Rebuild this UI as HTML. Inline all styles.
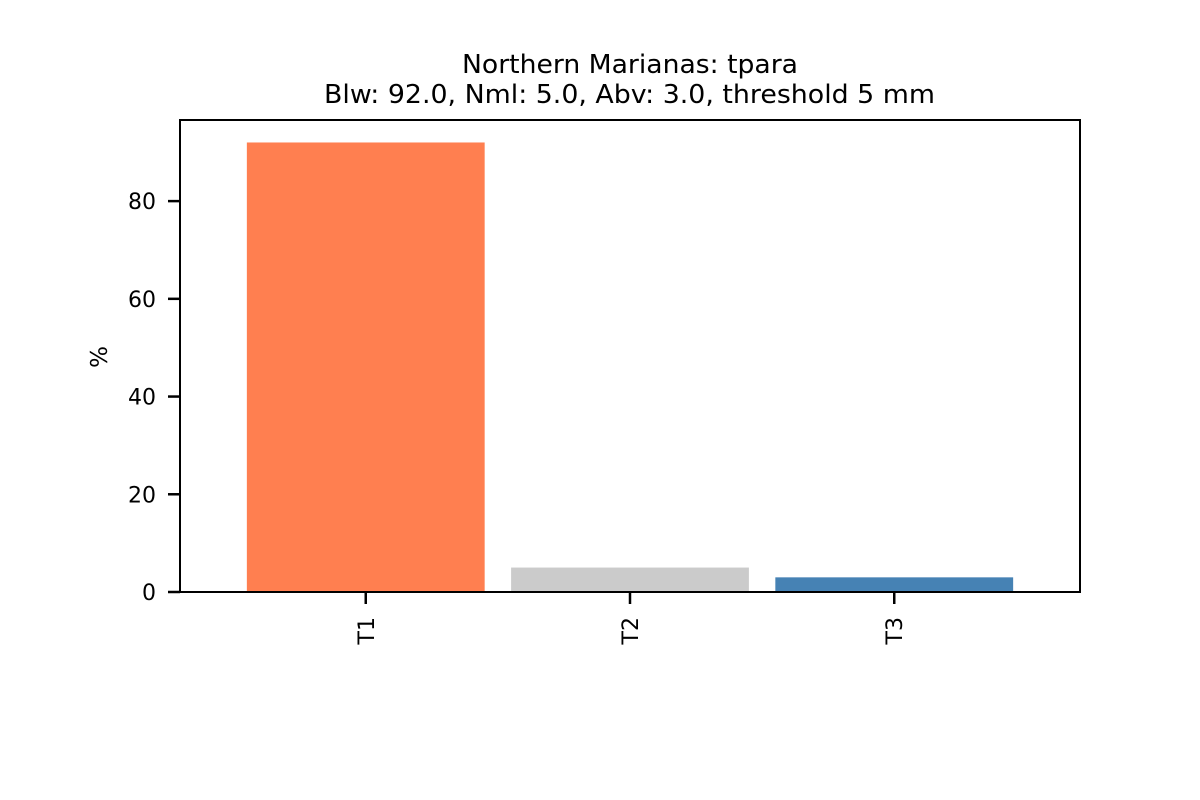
<!DOCTYPE html>
<html><head><meta charset="utf-8">
<style>
html,body{margin:0;padding:0;background:#fff;}
svg{display:block;font-family:"DejaVu Sans","Liberation Sans",sans-serif;}
</style></head>
<body>
<svg id="chart" width="1200" height="800" viewBox="0 0 1200 800" xmlns="http://www.w3.org/2000/svg">
<text x="462" y="73" font-size="26" textLength="336" lengthAdjust="spacingAndGlyphs">Northern Marianas: tpara</text>
<text x="324" y="103" font-size="26" textLength="611" lengthAdjust="spacingAndGlyphs">Blw: 92.0, Nml: 5.0, Abv: 3.0, threshold 5 mm</text>
<text transform="translate(107,357) rotate(-90)" font-size="23" text-anchor="middle">%</text>
<g id="bars"></g>
<g id="yticks"></g>
<g id="xticks"></g>
<rect x="180" y="120" width="900" height="472" fill="none" stroke="#000" stroke-width="2"/>
</svg>
<script>
const categories = ["T1","T2","T3"];
const values = [92.0, 5.0, 3.0];
const colors = ["#ff7f50","#cbcbcb","#4682b4"];
const yTicks = [0,20,40,60,80];

const L=180,R=1080,T=120,B=592;
const xMin=-0.703,xMax=2.703,yMin=0,yMax=Math.max(...values)*1.05;
const xs=v=>L+(v-xMin)/(xMax-xMin)*(R-L);
const ys=v=>B-(v-yMin)/(yMax-yMin)*(B-T);
const NS="http://www.w3.org/2000/svg";
const bars=document.getElementById('bars');
const yg=document.getElementById('yticks');
const xg=document.getElementById('xticks');
function mk(tag,attrs,parent){const e=document.createElementNS(NS,tag);for(const k in attrs)e.setAttribute(k,attrs[k]);parent.appendChild(e);return e;}

values.forEach((v,i)=>{
  const x0=xs(i-0.45),x1=xs(i+0.45);
  const r=mk('rect',{x:x0,y:ys(v),width:x1-x0,height:ys(0)-ys(v),fill:colors[i]},bars);
  
  
  const t=mk('line',{x1:xs(i),x2:xs(i),y1:B,y2:B+12,stroke:'#000','stroke-width':2.5},xg);
  
  
  const lb=mk('text',{transform:`translate(${xs(i)+8},${B+25}) rotate(-90)`,'font-size':22,'text-anchor':'end'},xg);
  lb.textContent=categories[i];
  
  
});
yTicks.forEach(v=>{
  const t=mk('line',{x1:L-12,x2:L,y1:ys(v),y2:ys(v),stroke:'#000','stroke-width':2.5},yg);
  
  
  const lb=mk('text',{x:L-24,y:ys(v)+8,'font-size':22,'text-anchor':'end'},yg);
  lb.textContent=v;
  
  
});
</script>
</body></html>
